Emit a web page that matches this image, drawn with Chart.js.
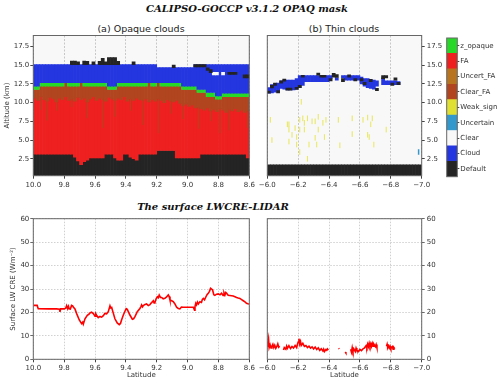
<!DOCTYPE html>
<html>
<head>
<meta charset="utf-8">
<script src="https://cdn.jsdelivr.net/npm/chart.js@4.4.0/dist/chart.umd.min.js"></script>
<style>
  body { margin: 0; background: #fff; width: 500px; height: 383px; position: relative; overflow: hidden; }
  canvas { position: absolute; }
  .t { position: absolute; white-space: nowrap; transform: translate(-50%, -50%); color: #111; }
  .main { font: bold italic 10px 'DejaVu Serif', serif; }
  .sub { font: 9.5px 'DejaVu Sans', sans-serif; color: #222; }
</style>
</head>
<body>
<div class="t main" style="left:247px; top:8px">CALIPSO-GOCCP v3.1.2 OPAQ mask</div>
<div class="t sub" style="left:141px; top:28px">(a) Opaque clouds</div>
<div class="t sub" style="left:344px; top:28px">(b) Thin clouds</div>
<div class="t main" style="left:213px; top:206px">The surface LWCRE-LIDAR</div>

<canvas id="ca" width="262" height="200" style="left:0; top:0"></canvas>
<canvas id="cb" width="190" height="200" style="left:255px; top:0"></canvas>
<canvas id="cbar" width="60" height="160" style="left:440px; top:30px"></canvas>
<canvas id="cc" width="262" height="183" style="left:0; top:200px"></canvas>
<canvas id="cd" width="190" height="183" style="left:255px; top:200px"></canvas>

<script>
// ---- axes ----
const altTicks = [2.5, 5.0, 7.5, 10.0, 12.5, 15.0, 17.5];
const latTicksA = [10.0, 9.8, 9.6, 9.4, 9.2, 9.0, 8.8, 8.6];
const latTicksB = [-6.0, -6.2, -6.4, -6.6, -6.8, -7.0];
const creTicks = [0, 10, 20, 30, 40, 50, 60];
const altMin = 0.24, altMax = 18.96;

// ---- (a) opaque clouds: one column per 0.02 deg, layer tops in km ----
const latA = [9.99, 9.97, 9.95, 9.93, 9.91, 9.89, 9.87, 9.85, 9.83, 9.81,
  9.79, 9.77, 9.75, 9.73, 9.71, 9.69, 9.67, 9.65, 9.63, 9.61,
  9.59, 9.57, 9.55, 9.53, 9.51, 9.49, 9.47, 9.45, 9.43, 9.41,
  9.39, 9.37, 9.35, 9.33, 9.31, 9.29, 9.27, 9.25, 9.23, 9.21,
  9.19, 9.17, 9.15, 9.13, 9.11, 9.09, 9.07, 9.05, 9.03, 9.01,
  8.99, 8.97, 8.95, 8.93, 8.91, 8.89, 8.87, 8.85, 8.83, 8.81,
  8.79, 8.77, 8.75, 8.73, 8.71, 8.69, 8.67, 8.65, 8.63, 8.61];
const defaultTopA = [3.1, 3.1, 3.1, 3.1, 3.1, 3.1, 3.1, 3.1, 3.1, 3.1,
  3.1, 3.1, 3.1, 2.7, 2.2, 1.7, 2.1, 2.3, 2.6, 2.6,
  2.6, 2.6, 2.6, 3.1, 3.1, 3.1, 2.6, 2.3, 2.3, 3.1,
  3.1, 2.7, 2.5, 2.3, 3.1, 3.1, 3.1, 3.1, 3.1, 3.1,
  3.6, 3.6, 3.6, 3.6, 3.6, 3.6, 2.6, 2.6, 2.6, 2.6,
  2.6, 2.6, 2.6, 2.6, 3.1, 3.1, 3.1, 3.1, 3.1, 3.1,
  3.1, 3.1, 3.1, 3.1, 3.1, 3.1, 3.1, 3.1, 3.1, 2.6];
const faTopA = [10.6, 10.3, 10.8, 10.4, 10.2, 10.7, 10.5, 10.1, 10.6, 10.4,
  10.8, 10.3, 10.5, 10.2, 10.7, 10.4, 10.6, 10.1, 10.5, 10.8,
  10.3, 10.6, 10.4, 10.2, 10.7, 10.5, 10.3, 10.6, 10.4, 10.8,
  10.2, 10.5, 10.3, 10.6, 10.4, 10.3, 10.5, 10.1, 10.4, 10.2,
  10.5, 10.3, 10.0, 10.4, 10.2, 10.1, 10.3, 9.9, 9.6, 9.8,
  9.5, 9.7, 9.3, 9.4, 9.2, 9.0, 9.3, 8.9, 9.1, 8.8,
  9.2, 9.0, 8.7, 9.1, 8.9, 9.2, 8.8, 9.0, 8.7, 8.9];
const greenBotA = [11.75, 11.75, 12.2, 12.2, 12.2, 12.2, 12.2, 12.2, 12.2, 12.2,
  12.65, 12.2, 12.2, 12.2, 12.2, 12.65, 12.2, 12.2, 12.2, 12.2,
  12.2, 12.2, 12.2, 12.2, 11.75, 11.75, 11.75, 12.2, 12.2, 12.2,
  12.2, 12.2, 12.2, 12.2, 12.2, 12.2, 12.2, 12.65, 12.2, 12.2,
  12.65, 12.2, 12.2, 12.2, 12.2, 12.2, 12.2, 12.2, 11.75, 11.75,
  11.75, 11.75, 11.75, 11.35, 11.35, 11.35, 10.8, 10.8, 10.8, 10.45,
  10.45, 10.8, 10.8, 10.8, 10.8, 10.8, 10.8, 10.8, 10.8, 10.8];
const greenTopA = [12.2, 12.2, 12.65, 12.65, 12.65, 12.65, 12.65, 12.65, 12.65, 12.65,
  12.65, 12.65, 12.65, 12.65, 12.65, 12.65, 12.65, 12.65, 12.65, 12.65,
  12.65, 12.65, 12.65, 12.65, 12.2, 12.2, 12.2, 12.65, 12.65, 12.65,
  12.65, 12.65, 12.65, 12.65, 12.65, 12.65, 12.65, 12.65, 12.65, 12.65,
  12.65, 12.65, 12.65, 12.65, 12.65, 12.65, 12.65, 12.65, 12.2, 12.2,
  12.2, 12.2, 12.2, 11.75, 11.75, 11.75, 11.35, 11.35, 11.35, 10.9,
  10.9, 11.25, 11.25, 11.25, 11.25, 11.25, 11.25, 11.25, 11.25, 11.25];
const cloudTopA = [15.07, 15.07, 15.07, 15.07, 15.07, 15.07, 15.07, 15.07, 15.07, 15.07,
  15.07, 15.07, 15.07, 15.07, 15.07, 15.07, 15.07, 15.07, 15.07, 15.07,
  15.07, 15.07, 15.07, 15.07, 15.07, 15.07, 15.07, 15.07, 15.07, 15.07,
  15.07, 15.07, 15.07, 15.07, 15.07, 15.07, 15.07, 15.07, 15.07, 15.07,
  14.67, 14.67, 14.67, 14.67, 14.67, 14.67, 14.67, 14.67, 14.67, 14.67,
  14.67, 14.67, 15.07, 15.07, 15.07, 15.07, 15.07, 15.07, 15.07, 15.07,
  15.07, 15.07, 15.07, 15.07, 15.07, 15.07, 15.07, 15.07, 15.07, 15.07];
// isolated "Default" cells around the cloud top, and clear holes inside it
const speckLatA = [9.75, 9.73, 9.71, 9.67, 9.65, 9.61, 9.57, 9.55, 9.53, 9.51,
  9.49, 9.47, 9.45, 9.35, 9.09, 8.95, 8.93, 8.91, 8.89, 8.87,
  8.85, 8.73, 8.71, 8.69, 8.63, 8.61];
const speckLowA = [15.07, 15.07, 15.07, 15.07, 15.07, 15.07, 15.07, 15.07, 15.07, 15.07,
  15.07, 15.07, 15.07, 15.07, 14.67, 14.75, 14.75, 14.75, 14.75, 14.3,
  14.0, 13.75, 13.75, 13.75, 13.3, 13.3];
const speckHighA = [15.55, 15.55, 15.45, 15.55, 15.5, 15.45, 15.5, 15.9, 15.45, 16.0,
  16.0, 16.0, 15.5, 15.45, 15.0, 15.07, 15.07, 15.07, 15.07, 14.65,
  14.4, 14.05, 14.05, 14.05, 13.7, 13.7];
const holeLatA = [8.83, 8.81, 8.77];
const holeLowA = [13.7, 13.7, 13.7];
const holeHighA = [14.05, 14.05, 14.05];
// thin Clear_FA streaks reaching down into the FA layer
const streakLatA = [9.95, 9.91, 9.85, 9.75, 9.65, 9.55, 9.47, 9.37, 9.29, 9.19, 9.11, 9.03, 8.93, 8.85, 8.79, 8.73, 8.61];
const streakLowA = [9.0, 7.6, 8.9, 9.4, 7.9, 6.6, 8.1, 8.9, 7.0, 5.9, 8.5, 7.8, 6.5, 7.5, 5.9, 6.3, 6.6];
const streakHighA = [10.8, 10.2, 10.1, 10.5, 10.1, 10.4, 10.3, 10.5, 10.3, 10.5, 10.2, 9.6, 9.4, 8.9, 9.2, 9.1, 8.9];

// ---- (b) thin clouds ----
const latB = [-6.01, -6.03, -6.05, -6.07, -6.09, -6.11, -6.13, -6.15, -6.17, -6.19,
  -6.21, -6.23, -6.25, -6.27, -6.29, -6.31, -6.33, -6.35, -6.37, -6.39,
  -6.41, -6.43, -6.45, -6.47, -6.49, -6.51, -6.53, -6.55, -6.57, -6.59,
  -6.61, -6.63, -6.65, -6.67, -6.69, -6.71, -6.73, -6.75, -6.77, -6.79,
  -6.81, -6.83, -6.85, -6.87, -6.89, -6.91, -6.93, -6.95, -6.97, -6.99];
const defaultTopB = 1.7; // surface "Default" band
const cloudLowB = [11.25, 11.3, 11.4, 11.6, 11.9, 11.8, 11.7, 11.7, 11.7, 11.8,
  12.0, 12.3, 12.8, 12.8, 12.8, 12.8, 12.8, 12.8, 12.8, 12.8,
  13.2, null, 13.0, null, 13.3, 13.0, 13.0, 13.0, 13.0, 13.0,
  12.5, 12.2, 12.0, 11.9, 11.8, 12.2, null, 12.4, 12.4, 12.4,
  12.5, 12.4, 12.4, null, null, null, null, null, null, null];
const cloudHighB = [12.0, 12.4, 12.5, 12.6, 12.9, 13.0, 13.0, 13.0, 13.0, 13.2,
  13.6, 13.6, 13.6, 13.6, 13.6, 13.6, 13.6, 13.6, 13.6, 13.6,
  13.6, null, 13.3, null, 13.6, 13.6, 13.6, 13.6, 13.6, 13.6,
  13.4, 13.2, 13.2, 13.0, 13.0, 12.9, null, 13.3, 12.9, 12.9,
  12.9, 12.9, 12.8, null, null, null, null, null, null, null];
const speckLatB = [-6.01, -6.03, -6.05, -6.07, -6.09, -6.11, -6.13, -6.15, -6.19, -6.21,
  -6.23, -6.33, -6.35, -6.37, -6.41, -6.43, -6.45, -6.49, -6.53, -6.57,
  -6.61, -6.63, -6.67, -6.71, -6.75, -6.77, -6.81, -6.83, -6.85];
const speckLowB = [11.25, 11.95, 12.3, 11.3, 12.6, 12.85, 11.65, 11.65, 11.75, 12.0,
  13.4, 13.65, 13.4, 13.4, 12.9, 13.4, 13.35, 12.8, 13.4, 12.9,
  12.9, 12.4, 12.8, 11.6, 13.2, 13.3, 12.3, 13.0, 12.4];
const speckHighB = [11.55, 12.3, 12.6, 11.6, 12.9, 13.15, 11.95, 11.95, 12.05, 12.3,
  13.65, 13.95, 13.65, 13.65, 13.2, 13.9, 13.75, 13.2, 13.7, 13.2,
  13.2, 12.7, 13.1, 11.9, 13.6, 13.6, 12.6, 13.3, 12.7];
const weakLat = [-6.22, -6.02, -6.13, -6.14, -6.21, -6.23, -6.24, -6.26, -6.29, -6.31,
  -6.33, -6.36, -6.38, -6.46, -6.55, -6.62, -6.65, -6.68, -6.67, -6.18,
  -6.14, -6.21, -6.24, -6.33, -6.16, -6.19, -6.31, -6.37, -6.55, -6.65,
  -6.66, -6.77, -6.03, -6.14, -6.19, -6.27, -6.32, -6.47, -6.69, -6.21, -6.26];
const weakAlt = [10.1, 7.7, 7.1, 7.1, 7.7, 7.9, 7.3, 7.9, 7.5, 7.5,
  8.1, 7.3, 7.7, 7.7, 7.9, 7.7, 8.0, 7.9, 7.1, 6.6,
  6.4, 6.4, 6.4, 6.4, 5.7, 5.4, 5.3, 5.4, 5.8, 5.7,
  5.4, 6.4, 5.0, 4.8, 4.4, 4.4, 4.4, 4.3, 4.4, 3.4, 2.5];
const uncertLat = [-6.98];
const uncertAlt = [3.4];

// ---- (c)/(d) surface LW CRE ----
const latC = [10.0, 9.975, 9.968, 9.9, 9.85, 9.83, 9.827, 9.823, 9.8, 9.79,
  9.784, 9.777, 9.772, 9.767, 9.76, 9.752, 9.745, 9.741, 9.73, 9.719,
  9.702, 9.687, 9.68, 9.676, 9.665, 9.65, 9.64, 9.633, 9.622, 9.611,
  9.6, 9.595, 9.59, 9.579, 9.568, 9.557, 9.546, 9.536, 9.525, 9.514,
  9.503, 9.498, 9.492, 9.482, 9.471, 9.456, 9.443, 9.435, 9.428, 9.417,
  9.406, 9.398, 9.391, 9.374, 9.358, 9.35, 9.341, 9.326, 9.309, 9.303,
  9.298, 9.292, 9.287, 9.276, 9.266, 9.255, 9.244, 9.238, 9.233, 9.222,
  9.217, 9.212, 9.204, 9.196, 9.19, 9.184, 9.176, 9.168, 9.158, 9.147,
  9.136, 9.125, 9.119, 9.114, 9.103, 9.093, 9.082, 9.071, 9.06, 9.05,
  9.04, 9.028, 9.0, 8.98, 8.963, 8.955, 8.952, 8.947, 8.942, 8.936,
  8.93, 8.92, 8.91, 8.904, 8.898, 8.89, 8.881, 8.874, 8.866, 8.858,
  8.851, 8.844, 8.838, 8.83, 8.823, 8.812, 8.801, 8.79, 8.78, 8.77,
  8.764, 8.758, 8.752, 8.747, 8.737, 8.726, 8.715, 8.704, 8.693, 8.682,
  8.672, 8.661, 8.65, 8.639, 8.628, 8.618, 8.609, 8.6];
const creC = [23.0, 23.0, 21.6, 21.5, 21.5, 21.4, 20.2, 21.5, 21.5, 21.8,
  22.9, 21.6, 22.6, 21.5, 21.4, 23.0, 22.8, 22.3, 21.5, 19.5,
  16.8, 15.2, 15.8, 15.0, 17.3, 18.8, 19.2, 19.8, 20.1, 19.5,
  18.4, 19.4, 18.8, 17.8, 18.3, 18.0, 18.6, 19.6, 19.4, 20.3,
  22.8, 21.9, 22.1, 19.8, 17.3, 15.5, 14.8, 15.3, 16.8, 18.8,
  20.5, 21.6, 21.3, 18.9, 17.1, 17.3, 18.2, 20.3, 21.7, 22.4,
  23.2, 22.4, 22.9, 23.4, 23.6, 22.9, 23.3, 23.9, 24.2, 25.0,
  24.0, 24.2, 25.8, 26.7, 26.3, 27.4, 26.4, 26.4, 25.8, 26.0,
  26.6, 27.5, 26.8, 25.3, 25.0, 24.6, 23.6, 22.2, 21.7, 21.5,
  22.3, 22.2, 22.2, 22.2, 22.2, 21.0, 22.5, 23.9, 23.2, 24.4,
  23.6, 24.6, 24.3, 25.6, 26.0, 25.4, 26.7, 27.6, 28.2, 29.0,
  30.3, 30.0, 29.6, 27.6, 27.3, 27.8, 27.9, 27.5, 28.2, 27.3,
  28.4, 27.4, 28.5, 28.2, 27.3, 27.2, 27.1, 27.0, 26.7, 26.4,
  26.2, 26.0, 25.5, 25.0, 24.5, 23.9, 23.7, 23.6];
const latD = [-6.0, -6.004, -6.008, -6.012, -6.018, -6.024, -6.03, -6.036, -6.042, -6.048,
  -6.055, -6.062, -6.068, -6.074, -6.08, -6.09, -6.105, -6.11, -6.12, -6.125,
  -6.13, -6.14, -6.15, -6.16, -6.17, -6.18, -6.19, -6.195, -6.2, -6.205,
  -6.21, -6.215, -6.22, -6.23, -6.24, -6.25, -6.26, -6.27, -6.28, -6.29,
  -6.3, -6.31, -6.32, -6.33, -6.34, -6.35, -6.36, -6.365, -6.37, -6.38,
  -6.385, -6.39, -6.395, -6.43, -6.462, -6.466, -6.48, -6.505, -6.509, -6.52,
  -6.54, -6.545, -6.55, -6.555, -6.56, -6.57, -6.575, -6.58, -6.59, -6.6,
  -6.61, -6.62, -6.63, -6.64, -6.645, -6.65, -6.655, -6.66, -6.665, -6.67,
  -6.675, -6.68, -6.685, -6.69, -6.7, -6.705, -6.71, -6.74, -6.772, -6.776,
  -6.78, -6.785, -6.79, -6.795, -6.8, -6.81, -6.815, -6.82, -6.825];
const creD = [5.5, 7.0, 8.7, 5.0, 6.2, 4.8, 5.6, 6.4, 5.0, 6.0,
  4.7, 5.5, 6.6, 5.2, 5.6, null, 4.0, 5.0, 4.3, 5.6,
  4.7, 5.8, 4.6, 5.5, 4.8, 5.9, 5.0, 6.3, 7.4, 8.8,
  6.5, 7.6, 5.9, 6.8, 5.5, 5.9, 5.0, 5.6, 4.8, 5.3,
  4.4, 5.2, 4.2, 4.9, 3.8, 4.5, 3.6, 4.3, 3.3, 4.2,
  3.9, 4.4, 3.9, null, 4.7, 4.4, null, 3.1, 2.7, null,
  4.3, 3.1, 5.0, 3.4, 4.5, 3.3, 4.8, 3.9, 3.3, 4.2,
  3.7, 4.5, 4.9, 5.8, 5.0, 6.5, 5.4, 6.9, 5.6, 6.7,
  5.5, 6.8, 5.6, 6.5, 5.4, 6.3, 5.0, null, 5.6, 6.4,
  5.0, 5.7, 4.8, 5.6, 4.6, 5.4, 4.3, 5.0, 4.5];

// ---- colour bar ----
const cbLabels = ['Default', 'Cloud', 'Clear', 'Uncertain', 'Weak_sign', 'Clear_FA', 'Uncert_FA', 'FA', 'z_opaque'];
const maskColors = {
  Default: '#242424', Cloud: '#2436df', Clear: '#f8f8f8', Uncertain: '#3399cc',
  Weak_sign: '#e0e033', Clear_FA: '#b0451f', Uncert_FA: '#b8741e', FA: '#ee2020', z_opaque: '#28d828'
};

Chart.defaults.font.family = "'DejaVu Sans', sans-serif";
Chart.defaults.font.size = 7;
Chart.defaults.color = '#333';
Chart.defaults.animation = false;
Chart.defaults.responsive = false;
Chart.defaults.plugins.legend.display = false;
Chart.defaults.plugins.tooltip.enabled = false;

// background + frame around the plot area
function frame(bg) {
  return {
    id: 'frame',
    beforeDraw(chart) {
      if (!bg) return;
      const a = chart.chartArea, ctx = chart.ctx;
      ctx.save(); ctx.fillStyle = bg;
      ctx.fillRect(a.left, a.top, a.right - a.left, a.bottom - a.top);
      ctx.restore();
    },
    afterDraw(chart) {
      const a = chart.chartArea, ctx = chart.ctx;
      ctx.save(); ctx.strokeStyle = '#666'; ctx.lineWidth = 1;
      ctx.strokeRect(a.left, a.top, a.right - a.left, a.bottom - a.top);
      ctx.restore();
    }
  };
}

const setTicks = list => s => { s.ticks = list.map(v => ({ value: v })); };
const fmt1 = v => v.toFixed(1).replace('-', '\u2212');

function floating(lats, lows, highs) {
  return lats.map((x, k) => ({ x: x, y: [lows[k], highs[k]] }))
    .filter(p => p.y[0] != null && p.y[1] != null && p.y[1] > p.y[0]);
}
function bars(label, data, color, pct) {
  return { type: 'bar', label: label, data: data, backgroundColor: color, borderWidth: 0,
    barPercentage: pct || 1, categoryPercentage: 1, grouped: false };
}

function latAxis(ticks, min, max, dashed, height, title) {
  const dash = dashed ? [2, 1.5] : [1.5, 1.5];
  return {
    type: 'linear', min: min, max: max, reverse: true, offset: false, z: dashed ? 1 : 0,
    afterBuildTicks: setTicks(ticks),
    afterFit: s => { s.height = height; },
    ticks: { callback: fmt1, maxRotation: 0, autoSkip: false, padding: 2 },
    grid: { offset: false, color: dashed ? 'rgba(150,150,150,0.85)' : '#c4c4c4', lineWidth: dashed ? 0.6 : 0.8,
      borderDash: dash, tickLength: 3, tickColor: '#444', tickWidth: 1, tickBorderDash: [] },
    border: { display: false, dash: dash },
    title: { display: !!title, text: title, font: { size: 7 }, padding: { top: 0, bottom: 3.3 } }
  };
}

// (a)
new Chart(document.getElementById('ca'), {
  type: 'bar',
  data: {
    datasets: [
      bars('Default', floating(speckLatA, speckLowA, speckHighA), maskColors.Default),
      bars('Clear', floating(holeLatA, holeLowA, holeHighA), maskColors.Clear),
      bars('Clear_FA', floating(streakLatA, streakLowA, streakHighA), maskColors.Clear_FA, 0.35),
      bars('Cloud', floating(latA, greenTopA, cloudTopA), maskColors.Cloud),
      bars('z_opaque', floating(latA, greenBotA, greenTopA), maskColors.z_opaque),
      bars('Clear_FA', floating(latA, faTopA, greenBotA), maskColors.Clear_FA),
      bars('FA', floating(latA, defaultTopA, faTopA), maskColors.FA),
      bars('Default', floating(latA, latA.map(() => altMin), defaultTopA), maskColors.Default)
    ]
  },
  options: {
    layout: { padding: { left: 0, top: 35.5, right: 12.7, bottom: 0 } },
    scales: {
      x: latAxis(latTicksA, 8.6, 10.0, true, 24.3, ''),
      y: {
        type: 'linear', min: altMin, max: altMax, beginAtZero: false,
        afterBuildTicks: setTicks(altTicks),
        afterFit: s => { s.width = 33.3; },
        ticks: { callback: fmt1, padding: 1 },
        grid: { drawOnChartArea: false, tickLength: 3, tickColor: '#444' },
        border: { display: false },
        title: { display: true, text: 'Altitude (km)', font: { size: 7 }, padding: { top: 2.8, bottom: 0 } }
      }
    }
  },
  plugins: [frame(maskColors.Clear)]
});

// (b)
new Chart(document.getElementById('cb'), {
  type: 'bar',
  data: {
    datasets: [
      bars('Default', floating(speckLatB, speckLowB, speckHighB), maskColors.Default),
      { type: 'scatter', label: 'Weak_sign', data: weakLat.map((x, k) => ({ x: x, y: weakAlt[k] })),
        pointStyle: 'line', rotation: 90, radius: 2.8, borderWidth: 1, borderColor: 'rgba(228,228,60,0.85)' },
      { type: 'scatter', label: 'Uncertain', data: uncertLat.map((x, k) => ({ x: x, y: uncertAlt[k] })),
        pointStyle: 'line', rotation: 90, radius: 2.8, borderWidth: 1.5, borderColor: maskColors.Uncertain },
      bars('Cloud', floating(latB, cloudLowB, cloudHighB), maskColors.Cloud),
      bars('Default', floating(latB, latB.map(() => altMin), latB.map(() => defaultTopB)), maskColors.Default)
    ]
  },
  options: {
    layout: { padding: { left: 12.3, top: 35.5, right: 0, bottom: 0 } },
    scales: {
      x: latAxis(latTicksB, -7.0, -6.0, true, 24.3, ''),
      y: {
        type: 'linear', position: 'right', min: altMin, max: altMax, beginAtZero: false,
        afterBuildTicks: setTicks(altTicks),
        afterFit: s => { s.width = 23.3; },
        ticks: { callback: fmt1, padding: 2 },
        grid: { drawOnChartArea: false, tickLength: 3, tickColor: '#444' },
        border: { display: false }
      }
    }
  },
  plugins: [frame(maskColors.Clear)]
});

// colour bar
new Chart(document.getElementById('cbar'), {
  type: 'bar',
  data: {
    labels: [''],
    datasets: cbLabels.map(name => ({ label: name, data: [1], backgroundColor: maskColors[name],
      borderWidth: 0, barPercentage: 1, categoryPercentage: 1 }))
  },
  options: {
    layout: { padding: { left: 6.7, top: 8, right: 0, bottom: 13.3 } },
    scales: {
      x: { display: false, stacked: true },
      y: {
        stacked: true, position: 'right', min: 0, max: cbLabels.length,
        afterBuildTicks: s => { s.ticks = cbLabels.map((_, k) => ({ value: k + 0.5 })); },
        afterFit: s => { s.width = 42.7; },
        ticks: { callback: (v, i) => cbLabels[i], padding: 1 },
        grid: { drawOnChartArea: false, tickLength: 2, tickColor: '#444' },
        border: { display: false }
      }
    }
  },
  plugins: [frame(null)]
});

function creChart(id, lats, vals, xTicks, xmin, xmax, left, right, yPos, yWidth, yTitle) {
  return new Chart(document.getElementById(id), {
    type: 'line',
    data: {
      datasets: [{ data: lats.map((x, k) => ({ x: x, y: vals[k] })), borderColor: '#ff0000',
        borderWidth: 1.6, pointRadius: 0, tension: 0, spanGaps: false }]
    },
    options: {
      layout: { padding: { left: left, top: 18.7, right: right, bottom: 0 } },
      scales: {
        x: latAxis(xTicks, xmin, xmax, false, 23.7, 'Latitude'),
        y: {
          type: 'linear', position: yPos, min: 0, max: 60,
          afterBuildTicks: setTicks(creTicks),
          afterFit: s => { s.width = yWidth; },
          ticks: { padding: yPos === 'left' ? 1 : 2 },
          grid: { color: '#c4c4c4', lineWidth: 0.8, borderDash: [1.5, 1.5], tickLength: 3, tickColor: '#444', tickBorderDash: [] },
          border: { display: false, dash: [1.5, 1.5] },
          title: { display: !!yTitle, text: yTitle, font: { size: 7 }, padding: { top: 8.8, bottom: 0 } }
        }
      }
    },
    plugins: [frame(null)]
  });
}

creChart('cc', latC, creC, latTicksA, 8.6, 10.0, 0, 12.7, 'left', 33.3, 'Surface LW CRE (Wm\u207B\u00B2)');
creChart('cd', latD, creD, latTicksB, -7.0, -6.0, 12.3, 0, 'right', 23.3, '');
</script>
</body>
</html>
